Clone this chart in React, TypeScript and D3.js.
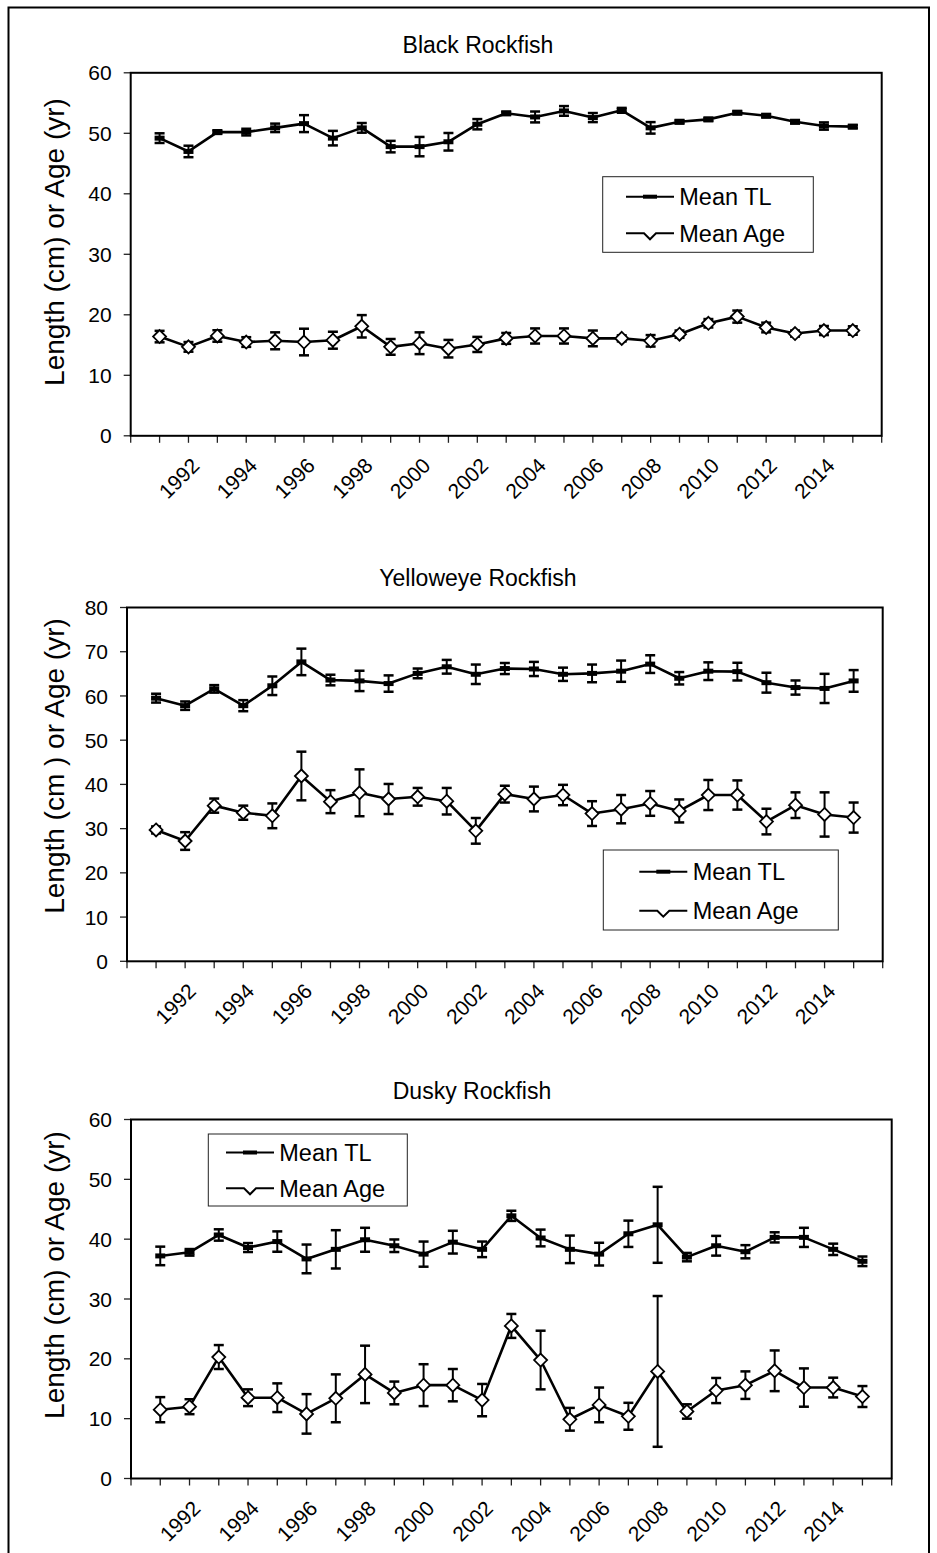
import React from 'react';
import * as d3 from 'd3';

// ---------- DATA ----------
const years = [1991, 1992, 1993, 1994, 1995, 1996, 1997, 1998, 1999, 2000, 2001, 2002, 2003,
  2004, 2005, 2006, 2007, 2008, 2009, 2010, 2011, 2012, 2013, 2014, 2015];
const tickYears = [1990, 1991, 1992, 1993, 1994, 1995, 1996, 1997, 1998, 1999, 2000, 2001, 2002,
  2003, 2004, 2005, 2006, 2007, 2008, 2009, 2010, 2011, 2012, 2013, 2014, 2015, 2016];
const labelYears = [1992, 1994, 1996, 1998, 2000, 2002, 2004, 2006, 2008, 2010, 2012, 2014];

const blackTL = [49.2, 47.0, 50.2, 50.2, 50.9, 51.6, 49.2, 50.9, 47.8, 47.8, 48.6, 51.5, 53.3,
  52.7, 53.7, 52.6, 53.8, 50.9, 51.9, 52.3, 53.4, 52.9, 51.9, 51.2, 51.1];
const blackTLErr = [0.8, 0.95, 0.3, 0.55, 0.7, 1.4, 1.2, 0.8, 0.95, 1.6, 1.45, 0.85, 0.3,
  0.9, 0.8, 0.75, 0.4, 0.95, 0.3, 0.3, 0.3, 0.3, 0.3, 0.6, 0.3];
const blackAge = [16.4, 14.7, 16.5, 15.5, 15.7, 15.5, 15.8, 18.1, 14.7, 15.3, 14.4, 15.1, 16.1,
  16.5, 16.5, 16.1, 16.1, 15.7, 16.8, 18.6, 19.7, 17.9, 16.9, 17.4, 17.4];
const blackAgeErr = [0.95, 0.8, 0.95, 0.8, 1.4, 2.2, 1.4, 1.85, 1.3, 1.8, 1.45, 1.25, 0.9,
  1.25, 1.25, 1.3, 0.5, 0.95, 0.6, 0.7, 1.0, 0.8, 0.5, 0.75, 0.7];

const yellowTL = [59.5, 57.8, 61.6, 57.8, 62.3, 67.7, 63.6, 63.4, 62.8, 65.1, 66.6, 64.9, 66.2,
  66.1, 64.9, 65.1, 65.6, 67.2, 64.0, 65.6, 65.5, 63.0, 61.9, 61.7, 63.4];
const yellowTLErr = [1.0, 0.95, 0.85, 1.25, 2.1, 3.0, 1.2, 2.3, 1.85, 1.1, 1.55, 2.2, 1.25,
  1.6, 1.5, 2.0, 2.4, 2.0, 1.4, 2.0, 2.0, 2.25, 1.6, 3.3, 2.45];
const yellowAge = [29.7, 27.2, 35.2, 33.6, 32.9, 41.9, 36.1, 38.1, 36.7, 37.2, 36.2, 29.5, 37.8,
  36.7, 37.6, 33.4, 34.4, 35.7, 34.0, 37.6, 37.6, 31.6, 35.3, 33.2, 32.5];
const yellowAgeErr = [0.8, 2.0, 1.6, 1.6, 2.8, 5.5, 2.6, 5.3, 3.4, 2.0, 3.0, 2.9, 1.9,
  2.8, 2.3, 2.8, 3.2, 2.8, 2.6, 3.4, 3.3, 2.9, 2.9, 5.0, 3.4];

const duskyTL = [37.2, 37.8, 40.7, 38.6, 39.6, 36.7, 38.3, 39.9, 38.9, 37.5, 39.5, 38.3, 43.9,
  40.2, 38.3, 37.5, 40.9, 42.4, 37.0, 38.9, 37.9, 40.3, 40.3, 38.3, 36.3];
const duskyTLErr = [1.55, 0.55, 0.95, 0.75, 1.7, 2.4, 3.2, 2.0, 1.05, 2.1, 1.9, 1.3, 0.85,
  1.4, 2.3, 1.9, 2.2, 6.35, 0.7, 1.65, 1.1, 0.85, 1.6, 0.95, 0.8];
const duskyAge = [11.5, 12.0, 20.3, 13.5, 13.5, 10.8, 13.4, 17.4, 14.3, 15.6, 15.6, 13.1, 25.5,
  19.8, 9.9, 12.3, 10.4, 17.9, 11.2, 14.7, 15.6, 18.0, 15.2, 15.2, 13.7];
const duskyAgeErr = [2.1, 1.25, 2.0, 1.4, 2.4, 3.3, 4.0, 4.8, 1.9, 3.5, 2.7, 2.7, 2.0,
  4.9, 1.9, 2.9, 2.25, 12.6, 1.2, 2.1, 2.3, 3.4, 3.2, 1.65, 1.75];

const legendLabels = ['Mean TL', 'Mean Age'];

// ---------- LAYOUT ----------
type Panel = {
  title: string; yTitle: string;
  tl: number[]; tlErr: number[]; age: number[]; ageErr: number[];
  yMax: number; yStep: number;
  left: number; right: number; top: number; bottom: number;
  titleX: number; titleY: number; yTitleY: number;
  leg: { x: number; y: number; w: number; h: number; r1: number; r2: number; lx0: number; lx1: number; tx: number };
};

const panels: Panel[] = [
  {
    title: 'Black Rockfish', yTitle: 'Length (cm) or Age (yr)',
    tl: blackTL, tlErr: blackTLErr, age: blackAge, ageErr: blackAgeErr,
    yMax: 60, yStep: 10, left: 130.7, right: 881.7, top: 72.8, bottom: 435.8,
    titleX: 478, titleY: 45, yTitleY: 242,
    leg: { x: 602.7, y: 176.7, w: 210.6, h: 75.6, r1: 196.7, r2: 233.3, lx0: 626, lx1: 674, tx: 679.3 },
  },
  {
    title: 'Yelloweye Rockfish', yTitle: 'Length (cm ) or Age (yr)',
    tl: yellowTL, tlErr: yellowTLErr, age: yellowAge, ageErr: yellowAgeErr,
    yMax: 80, yStep: 10, left: 127, right: 882.7, top: 607.5, bottom: 961.3,
    titleX: 478, titleY: 578, yTitleY: 766,
    leg: { x: 603.3, y: 850, w: 235, h: 80, r1: 871.7, r2: 910.7, lx0: 639.3, lx1: 687.3, tx: 692.7 },
  },
  {
    title: 'Dusky Rockfish', yTitle: 'Length (cm) or Age (yr)',
    tl: duskyTL, tlErr: duskyTLErr, age: duskyAge, ageErr: duskyAgeErr,
    yMax: 60, yStep: 10, left: 131, right: 891.7, top: 1119.5, bottom: 1478.5,
    titleX: 472, titleY: 1091, yTitleY: 1275,
    leg: { x: 208.3, y: 1134, w: 199, h: 72, r1: 1152.5, r2: 1188.3, lx0: 226, lx1: 274, tx: 279.3 },
  },
];

const FONT = "'Liberation Sans', Arial, Helvetica, sans-serif";

function ChartPanel({ p }: { p: Panel }) {
  const x = d3.scaleLinear().domain([1990, 2016]).range([p.left, p.right]);
  const y = d3.scaleLinear().domain([0, p.yMax]).range([p.bottom, p.top]);
  const yTicks = d3.range(0, p.yMax + 0.001, p.yStep);
  const line = d3.line<number>().x((_, i) => x(years[i])).y((d) => y(d));
  const capW = 5;
  const diamond = (cx: number, cy: number, r = 6.5) =>
    `M${cx},${cy - r}L${cx + r},${cy}L${cx},${cy + r}L${cx - r},${cy}Z`;
  const lm = (p.leg.lx0 + p.leg.lx1) / 2;

  const errBars = (vals: number[], errs: number[]) =>
    vals.map((v, i) => {
      const cx = x(years[i]);
      const y0 = y(v - errs[i]);
      const y1 = y(v + errs[i]);
      return (
        <g key={i}>
          <line x1={cx} x2={cx} y1={y0} y2={y1} stroke="#000" strokeWidth={2} />
          <line x1={cx - capW} x2={cx + capW} y1={y0} y2={y0} stroke="#000" strokeWidth={2.5} />
          <line x1={cx - capW} x2={cx + capW} y1={y1} y2={y1} stroke="#000" strokeWidth={2.5} />
        </g>
      );
    });

  return (
    <g>
      <text x={p.titleX} y={p.titleY} textAnchor="middle" dy="0.35em" fontSize={23} fontFamily={FONT}>{p.title}</text>
      <text transform={`translate(54,${p.yTitleY}) rotate(-90)`} textAnchor="middle" dy="0.35em" fontSize={28} fontFamily={FONT}>{p.yTitle}</text>

      {/* y ticks and labels */}
      {yTicks.map((t) => (
        <g key={t}>
          <line x1={p.left - 7} x2={p.left} y1={y(t)} y2={y(t)} stroke="#222" strokeWidth={1.3} />
          <text x={p.left - 19} y={y(t)} dy="0.36em" textAnchor="end" fontSize={21} fontFamily={FONT}>{t}</text>
        </g>
      ))}
      {/* x ticks */}
      {tickYears.map((t) => (
        <line key={t} x1={x(t)} x2={x(t)} y1={p.bottom} y2={p.bottom + 7} stroke="#222" strokeWidth={1.3} />
      ))}
      {labelYears.map((t) => (
        <text key={t} transform={`translate(${x(t) + 7},${p.bottom + 26}) rotate(-45)`} textAnchor="end" dy="0.35em"
          fontSize={21} fontFamily={FONT}>{t}</text>
      ))}

      {/* plot border */}
      <rect x={p.left} y={p.top} width={p.right - p.left} height={p.bottom - p.top} fill="none" stroke="#000" strokeWidth={2} />

      {errBars(p.tl, p.tlErr)}
      {errBars(p.age, p.ageErr)}

      <path d={line(p.tl) || ''} fill="none" stroke="#000" strokeWidth={2.6} strokeLinejoin="round" />
      <path d={line(p.age) || ''} fill="none" stroke="#000" strokeWidth={2.6} strokeLinejoin="round" />

      {p.tl.map((v, i) => (
        <rect key={i} x={x(years[i]) - 5} y={y(v) - 2.5} width={10} height={5} fill="#000" />
      ))}
      {p.age.map((v, i) => (
        <path key={i} d={diamond(x(years[i]), y(v))} fill="#fff" stroke="#000" strokeWidth={1.8} />
      ))}

      {/* legend */}
      <rect x={p.leg.x} y={p.leg.y} width={p.leg.w} height={p.leg.h} fill="#fff" stroke="#222" strokeWidth={1} />
      <line x1={p.leg.lx0} x2={p.leg.lx1} y1={p.leg.r1} y2={p.leg.r1} stroke="#000" strokeWidth={2} />
      <rect x={lm - 7} y={p.leg.r1 - 2} width={14} height={4} fill="#000" />
      <text x={p.leg.tx} y={p.leg.r1} dy="0.36em" fontSize={23.5} fontFamily={FONT}>{legendLabels[0]}</text>
      <path
        d={`M${p.leg.lx0},${p.leg.r2}L${lm - 6},${p.leg.r2}L${lm},${p.leg.r2 + 6}L${lm + 6},${p.leg.r2}L${p.leg.lx1},${p.leg.r2}`}
        fill="none" stroke="#000" strokeWidth={2} />
      <text x={p.leg.tx} y={p.leg.r2} dy="0.36em" fontSize={23.5} fontFamily={FONT}>{legendLabels[1]}</text>
    </g>
  );
}

export default function App() {
  return (
    <svg width={937} height={1553} style={{ position: 'absolute', left: 0, top: 0, background: '#fff' }}>
      <rect x={0} y={0} width={937} height={1553} fill="#fff" />
      <rect x={8.5} y={7.5} width={920.5} height={1560} fill="none" stroke="#000" strokeWidth={2} />
      {panels.map((p, i) => <ChartPanel key={i} p={p} />)}
    </svg>
  );
}
